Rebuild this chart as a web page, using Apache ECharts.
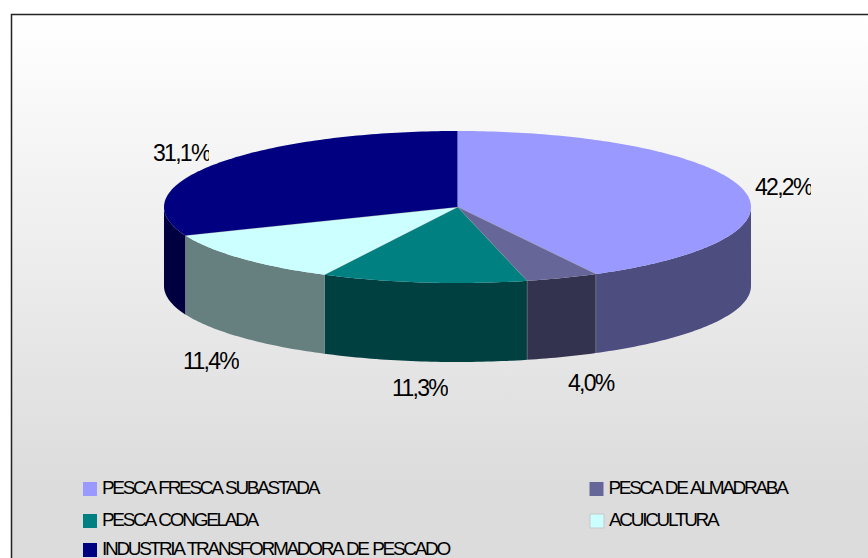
<!DOCTYPE html>
<html>
<head>
<meta charset="utf-8">
<script src="https://cdn.jsdelivr.net/npm/echarts@6/dist/echarts.min.js"></script>
<style>
  html, body { margin: 0; padding: 0; background: #fff; }
  #chart { width: 868px; height: 558px; }
  /* the original text is set very tight; the svg renderer lets css do it */
  #chart text { letter-spacing: -1.7px; }
  #chart text[style*="19px"] { letter-spacing: -2.3px; word-spacing: 1.5px; }
</style>
</head>
<body>
<div id="chart"></div>
<script>
const categories = [
  "PESCA FRESCA SUBASTADA",
  "PESCA DE ALMADRABA",
  "PESCA CONGELADA",
  "ACUICULTURA",
  "INDUSTRIA TRANSFORMADORA DE PESCADO",
];
const shares = [42.2, 4.0, 11.3, 11.4, 31.1];
const topColors = ["#9999ff", "#666699", "#008080", "#ccffff", "#000080"];
const sideColors = ["#4d4d80", "#333350", "#004040", "#668080", "#000040"];

// pie geometry
const cx = 457.5;
const cy = 207;
const rx = 293.5;
const ry = 76;
const depth = 79;

// left / vertical centre / clip width of each value label
const labelLeft = [755, 568, 392, 183, 153];
const labelMid = [187, 383, 388, 361, 153];
const labelClip = 56;

// legend slots: left, top
const legendLeft = [83, 589.5, 83, 589.5, 83];
const legendTop = [478, 478, 510, 510, 539];
// 14px square at the bottom of a 14x17 box, so the text sits 1.5px above the square's middle
const legendIcon = "path://M0 0L0 0M0 3H14V17H0Z";

const chart = echarts.init(document.getElementById("chart"), null, { renderer: "svg" });

const total = shares.reduce((a, b) => a + b, 0);
const fractionBefore = (i) => shares.slice(0, i).reduce((a, b) => a + b, 0) / total;

function rimPoint(turn, drop) {
  const a = turn * 2 * Math.PI;
  return [cx + rx * Math.sin(a), cy - ry * Math.cos(a) + drop];
}

function arc(from, to, drop) {
  const steps = Math.max(2, Math.ceil(Math.abs(to - from) * 360));
  const points = [];
  for (let s = 0; s <= steps; s++) points.push(rimPoint(from + ((to - from) * s) / steps, drop));
  return points;
}

function renderSlice(index) {
  const from = fractionBefore(index);
  const to = fractionBefore(index + 1);
  const children = [];

  // only the front half of the rim is seen
  const sideFrom = Math.max(from, 0.25);
  const sideTo = Math.min(to, 0.75);
  if (sideTo > sideFrom) {
    children.push({
      type: "polygon",
      shape: { points: arc(sideFrom, sideTo, 0).concat(arc(sideTo, sideFrom, depth)) },
      style: { fill: sideColors[index] },
    });
  }
  children.push({
    type: "polygon",
    shape: { points: [[cx, cy]].concat(arc(from, to, 0)) },
    style: { fill: topColors[index] },
  });

  if (index < shares.length - 1) {
    const edge = rimPoint(to, 0);
    children.push({
      type: "line",
      shape: { x1: cx, y1: cy, x2: edge[0], y2: edge[1] },
      style: { stroke: "#a8a8a8", lineWidth: 0.8 },
    });
    children.push({
      type: "line",
      shape: { x1: edge[0], y1: edge[1], x2: edge[0], y2: edge[1] + depth },
      style: { stroke: "#a8a8a8", lineWidth: 0.8 },
    });
  }

  // labels are cut off at the right, as in the original
  children.push({
    type: "text",
    clipPath: {
      type: "rect",
      shape: { x: labelLeft[index], y: labelMid[index] - 20, width: labelClip, height: 40 },
    },
    style: {
      x: labelLeft[index],
      y: labelMid[index],
      text: shares[index].toFixed(1).replace(".", ",") + "%",
      fill: "#000",
      font: '23px "Liberation Sans"',
      verticalAlign: "middle",
    },
  });
  return { type: "group", children };
}

chart.setOption({
  animation: false,
  graphic: [
    {
      type: "rect",
      z: -10,
      shape: { x: 11.5, y: 14.5, width: 900, height: 600 },
      style: {
        stroke: "#222",
        lineWidth: 1.5,
        fill: {
          type: "linear",
          x: 0,
          y: 0,
          x2: 0,
          y2: 1,
          colorStops: [
            { offset: 0, color: "#ffffff" },
            { offset: 0.78, color: "#dcdcdc" },
            { offset: 1, color: "#dcdcdc" },
          ],
        },
      },
    },
  ],
  legend: categories.map((name, i) => ({
    left: legendLeft[i],
    top: legendTop[i],
    padding: 0,
    itemWidth: 14,
    itemHeight: 17,
    itemGap: 0,
    selectedMode: false,
    icon: legendIcon,
    textStyle: { fontFamily: "Liberation Sans", fontSize: 19, color: "#000" },
    data: [
      name === "ACUICULTURA"
        ? { name, itemStyle: { borderColor: "#c8c8c8", borderWidth: 1 } }
        : { name },
    ],
  })),
  series: categories.map((name, i) => ({
    type: "custom",
    name,
    coordinateSystem: "none",
    silent: true,
    itemStyle: { color: topColors[i] },
    data: [shares[i]],
    renderItem: () => renderSlice(i),
  })),
});
</script>
</body>
</html>
